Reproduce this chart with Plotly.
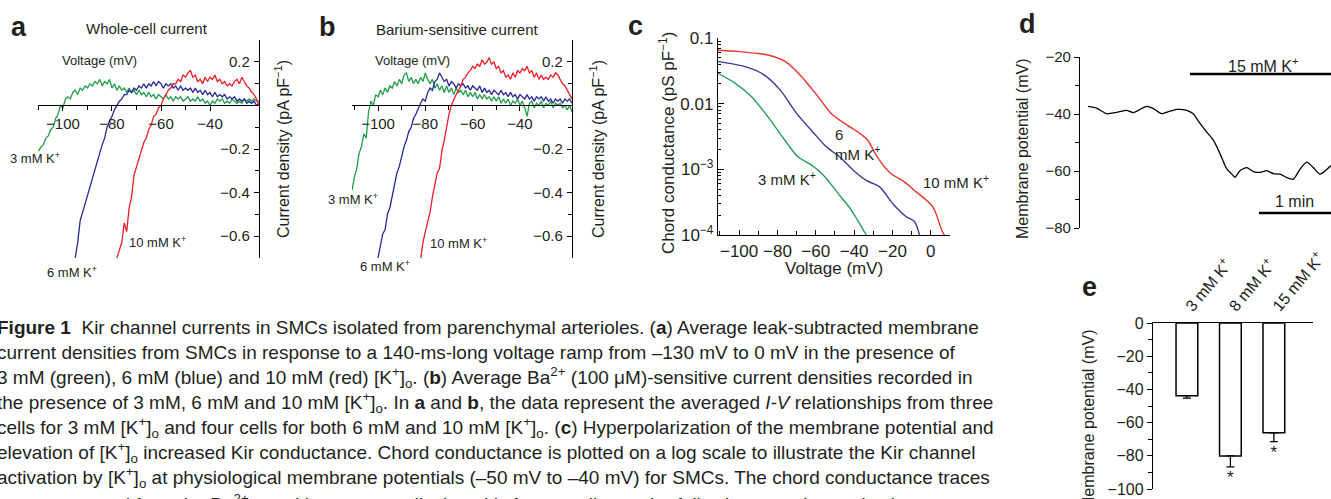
import plotly.graph_objects as go

W, H = 1331, 499


def px(x):
    return x / W


def py(y):
    return 1 - y / H


INK = '#231f20'
GREEN = '#1f9d4b'
BLUE = '#27279b'
RED = '#ee1d25'
FONT = 'Liberation Sans, Arial, sans-serif'

# ---- panel a: whole-cell current (pA/pF), 1 mV steps from the start voltage
a_green_v0 = -110
a_green = [-0.21, -0.19, -0.18, -0.15, -0.14, -0.11, -0.10, -0.06, -0.04, 0.0,
           -0.01, 0.03, 0.04, 0.03, 0.06, 0.07, 0.05, 0.08, 0.07, 0.09,
           0.08, 0.10, 0.09, 0.11, 0.10, 0.12, 0.09, 0.11, 0.10, 0.12,
           0.08, 0.10, 0.07, 0.09, 0.07, 0.08, 0.06, 0.08, 0.06, 0.07,
           0.05, 0.07, 0.05, 0.06, 0.04, 0.06, 0.04, 0.05, 0.03, 0.05,
           0.04, 0.03, 0.05, 0.03, 0.04, 0.02, 0.04, 0.03, 0.04, 0.02,
           0.03, 0.04, 0.02, 0.03, 0.02, 0.04, 0.02, 0.03, 0.01, 0.02,
           0.0, 0.02, 0.01, 0.03, 0.02, 0.03, 0.01, 0.02, 0.01, 0.03,
           0.02, 0.01, 0.02, 0.01, 0.03, 0.02, 0.03, 0.02, 0.03, 0.02, 0.02]
a_blue_v0 = -95
a_blue = [-0.70, -0.63, -0.53, -0.49, -0.45, -0.41, -0.38, -0.33, -0.30, -0.25,
          -0.21, -0.18, -0.15, -0.10, -0.07, -0.05, -0.02, 0.0, 0.02, 0.03,
          0.05, 0.05, 0.07, 0.06, 0.08, 0.07, 0.09, 0.08, 0.10, 0.08,
          0.10, 0.09, 0.11, 0.09, 0.11, 0.10, 0.08, 0.10, 0.09, 0.10,
          0.08, 0.09, 0.07, 0.09, 0.07, 0.08, 0.07, 0.08, 0.06, 0.08,
          0.06, 0.07, 0.05, 0.07, 0.05, 0.06, 0.04, 0.06, 0.04, 0.05,
          0.04, 0.05, 0.03, 0.04, 0.03, 0.04, 0.02, 0.03, 0.02, 0.03,
          0.01, 0.02, 0.01, 0.02, 0.0, 0.01]
a_red_v0 = -78
a_red = [-0.70, -0.66, -0.63, -0.54, -0.58, -0.47, -0.42, -0.32, -0.28, -0.24,
         -0.21, -0.17, -0.15, -0.11, -0.09, -0.05, -0.04, -0.01, 0.0, 0.03,
         0.05, 0.07, 0.08, 0.10, 0.10, 0.12, 0.11, 0.14, 0.13, 0.15,
         0.16, 0.13, 0.14, 0.11, 0.12, 0.10, 0.13, 0.11, 0.13, 0.12,
         0.14, 0.11, 0.12, 0.10, 0.11, 0.09, 0.10, 0.09, 0.11, 0.12,
         0.10, 0.13, 0.11, 0.09, 0.08, 0.06, 0.05, 0.03, 0.0]

# ---- panel b: barium-sensitive current (pA/pF)
b_green_v0 = -111
b_green = [-0.39, -0.33, -0.29, -0.22, -0.19, -0.13, -0.15, -0.03, 0.02, 0.0,
           0.05, 0.04, 0.07, 0.05, 0.08, 0.06, 0.09, 0.08, 0.11, 0.09,
           0.12, 0.10, 0.14, 0.15, 0.11, 0.13, 0.10, 0.12, 0.10, 0.13,
           0.11, 0.15, 0.12, 0.10, 0.12, 0.08, 0.10, 0.07, 0.09, 0.06,
           0.09, 0.06, 0.08, 0.05, 0.08, 0.06, 0.07, 0.05, 0.07, 0.04,
           0.06, 0.04, 0.06, 0.03, 0.05, 0.03, 0.05, 0.03, 0.04, 0.02,
           0.04, 0.02, 0.04, 0.01, 0.03, 0.01, 0.03, 0.0, 0.02, 0.01,
           0.03, 0.0, 0.02, -0.01, -0.05, 0.01, 0.02, -0.01, 0.01, 0.0,
           0.02, -0.01, 0.01, 0.0, 0.02, -0.01, 0.01, 0.0, 0.01, -0.01,
           0.0, -0.02, 0.0, -0.03]
b_blue_v0 = -100
b_blue = [-0.70, -0.64, -0.59, -0.57, -0.50, -0.47, -0.42, -0.37, -0.31, -0.28,
          -0.23, -0.19, -0.16, -0.12, -0.10, -0.06, -0.04, -0.01, 0.01, 0.03,
          0.02, 0.06, 0.08, 0.07, 0.11, 0.12, 0.15, 0.13, 0.11, 0.12,
          0.09, 0.11, 0.10, 0.08, 0.10, 0.09, 0.10, 0.08, 0.09, 0.07,
          0.09, 0.08, 0.07, 0.09, 0.06, 0.08, 0.06, 0.07, 0.05, 0.07,
          0.06, 0.05, 0.07, 0.05, 0.06, 0.04, 0.06, 0.04, 0.05, 0.03,
          0.05, 0.04, 0.03, 0.05, 0.03, 0.04, 0.02, 0.04, 0.03, 0.04,
          0.02, 0.04, 0.02, 0.03, 0.01, 0.03, 0.02, 0.03, 0.01, 0.03,
          0.02, 0.03, 0.01]
b_red_v0 = -82
b_red = [-0.71, -0.63, -0.58, -0.53, -0.49, -0.42, -0.36, -0.31, -0.29, -0.21,
         -0.16, -0.10, -0.04, 0.0, 0.03, 0.05, 0.07, 0.09, 0.12, 0.13,
         0.15, 0.16, 0.18, 0.17, 0.19, 0.18, 0.21, 0.19, 0.20, 0.22,
         0.19, 0.20, 0.17, 0.18, 0.15, 0.16, 0.13, 0.14, 0.12, 0.15,
         0.13, 0.16, 0.15, 0.17, 0.16, 0.18, 0.15, 0.16, 0.13, 0.15,
         0.12, 0.14, 0.12, 0.13, 0.12, 0.14, 0.13, 0.15, 0.14, 0.12,
         0.10, 0.09, 0.07, 0.05, 0.03]

# ---- panel c: chord conductance (pS/pF)
c_red_v = [-111, -100, -90, -85, -76, -67.5, -59, -52, -45, -38, -33, -28, -21, -14, -9, 1, 5.6, 7]
c_red_g = [0.065, 0.062, 0.058, 0.055, 0.044, 0.026, 0.013, 0.0071, 0.0050, 0.0037,
           0.0028, 0.00155, 0.00087, 0.00065, 0.00049, 0.00027, 0.00012, 0.0001]
c_blue_v = [-111, -96, -87, -78.6, -70, -61, -54.5, -47.6, -40.6, -33.7, -26.7, -19.8, -12.8, -8.5, -5.9]
c_blue_g = [0.044, 0.036, 0.0275, 0.0162, 0.0071, 0.00355, 0.0022, 0.00155, 0.00098,
            0.00068, 0.00054, 0.0003, 0.00019, 0.00016, 0.0001]
c_green_v = [-111, -102, -93.6, -84.9, -76.2, -69.3, -62.3, -55.4, -48.4, -41.5, -33.7]
c_green_g = [0.029, 0.0204, 0.0129, 0.0063, 0.0028, 0.00155, 0.00117, 0.00078, 0.00043, 0.00024, 0.0001]

# ---- panel d: membrane potential trace (time in s)
d_t = [0, 5.8, 12.4, 19.1, 25.8, 30.2, 39.1, 43.6, 49.1, 54.7, 59.1, 65.8, 70.2, 74.7,
       79.1, 83.6, 88, 92.4, 95.8, 98, 101.3, 105.8, 110.2, 114.7, 119.1, 123.6, 128,
       132.4, 136.9, 141.3, 145.8, 150.2, 154.7, 162]
d_vm = [-37.3, -37.9, -39.9, -39.4, -38.7, -39.5, -37.3, -38.1, -39.9, -39.0, -38.4,
        -38.7, -39.9, -43.3, -46.3, -49.2, -53.9, -59.2, -61.0, -62.2, -59.9, -58.8,
        -60.2, -60.5, -59.9, -60.9, -61.1, -62.3, -62.9, -59.4, -56.9, -58.8, -61.1, -58.1]
k15_on = 68        # s, start of 15 mM K+ application
k15_level = -26    # mV, where the bar is drawn
scale_start = 114  # s
scale_len = 60     # s (1 min)
scale_level = -74.7

# ---- panel e: resting membrane potential
e_cats = ['3 mM K<sup>+</sup>', '8 mM K<sup>+</sup>', '15 mM K<sup>+</sup>']
e_mean = [-43.8, -80.1, -66.1]
e_sem = [1.4, 6.6, 5.4]
e_sig = [False, True, True]

fig = go.Figure()


def volt(v0, ys):
    return [v0 + i for i in range(len(ys))]


for v0, ys, col in [(a_green_v0, a_green, GREEN), (a_blue_v0, a_blue, BLUE), (a_red_v0, a_red, RED)]:
    fig.add_trace(go.Scatter(x=volt(v0, ys), y=ys, mode='lines', line=dict(color=col, width=1.3),
                             xaxis='x', yaxis='y'))
for v0, ys, col in [(b_green_v0, b_green, GREEN), (b_blue_v0, b_blue, BLUE), (b_red_v0, b_red, RED)]:
    fig.add_trace(go.Scatter(x=volt(v0, ys), y=ys, mode='lines', line=dict(color=col, width=1.3),
                             xaxis='x2', yaxis='y2'))
for vs, gs, col in [(c_red_v, c_red_g, '#e8352e'), (c_blue_v, c_blue_g, '#3a3a9c'), (c_green_v, c_green_g, '#25a05a')]:
    fig.add_trace(go.Scatter(x=vs, y=gs, mode='lines', line=dict(color=col, width=1.4, shape='spline', smoothing=0.8),
                             xaxis='x3', yaxis='y3'))

fig.add_trace(go.Scatter(x=d_t, y=d_vm, mode='lines', line=dict(color='black', width=1.3, shape='spline', smoothing=0.6),
                         xaxis='x4', yaxis='y4'))
fig.add_trace(go.Scatter(x=[k15_on, k15_on + 200], y=[k15_level, k15_level], mode='lines',
                         line=dict(color='black', width=2.5), xaxis='x4', yaxis='y4'))
fig.add_trace(go.Scatter(x=[scale_start, scale_start + scale_len], y=[scale_level, scale_level], mode='lines',
                         line=dict(color='black', width=2.5), xaxis='x4', yaxis='y4'))

fig.add_trace(go.Bar(x=e_cats, y=e_mean, width=0.5, marker=dict(color='white', line=dict(color='black', width=1.5)),
                     error_y=dict(type='data', symmetric=False, array=[0, 0, 0], arrayminus=e_sem,
                                  color='black', thickness=1.3, width=4),
                     xaxis='x5', yaxis='y5'))
star_x = [c for c, s in zip(e_cats, e_sig) if s]
star_y = [m - e - 7 for m, e, s in zip(e_mean, e_sem, e_sig) if s]
fig.add_trace(go.Scatter(x=star_x, y=star_y, mode='text', text=['*'] * len(star_x),
                         textfont=dict(size=17, color=INK, family=FONT), cliponaxis=False,
                         xaxis='x5', yaxis='y5'))

tick_font = dict(size=15, color=INK, family=FONT)
ax_line = dict(showline=True, linecolor='black', linewidth=1.3, showgrid=False, zeroline=False,
               tickcolor='black', tickfont=tick_font, automargin=False)

iv_x = dict(ax_line, anchor='free', position=py(105), ticks='outside', ticklen=5,
            tickvals=[-100, -80, -60, -40], ticktext=['−100', '−80', '−60', '−40'],
            minor=dict(dtick=10, tick0=0, ticks='outside', ticklen=4, tickcolor='black'))
iv_y = dict(ax_line, side='right', ticks='inside', ticklen=5, ticklabelposition='inside',
            ticklabelstandoff=4,
            range=[-0.701, 0.301], domain=[py(258), py(40)],
            tickvals=[-0.6, -0.4, -0.2, 0.2], ticktext=['−0.6', '−0.4', '−0.2', '0.2'],
            minor=dict(dtick=0.1, tick0=0, ticks='inside', ticklen=4, tickcolor='black'))

minor_log = [m * 10 ** e for e in (-4, -3, -2) for m in range(2, 10)]

fig.update_layout(
    width=W, height=H, margin=dict(l=0, r=0, t=0, b=0, autoexpand=False),
    paper_bgcolor='white', plot_bgcolor='white', showlegend=False,
    font=dict(family=FONT, color=INK),
    xaxis=dict(iv_x, domain=[px(38), px(259)], range=[-110.2, -20]),
    yaxis=dict(iv_y, anchor='x'),
    xaxis2=dict(iv_x, domain=[px(352), px(572)], range=[-111, -18]),
    yaxis2=dict(iv_y, anchor='x2'),
    xaxis3=dict(ax_line, domain=[px(718), px(950)], range=[-111, 10], anchor='y3',
                ticks='inside', ticklen=5, tickvals=[-100, -80, -60, -40, -20, 0],
                ticktext=['−100', '−80', '−60', '−40', '−20', '0'], tickfont=dict(tick_font, size=17),
                minor=dict(dtick=10, tick0=0, ticks='inside', ticklen=4, tickcolor='black')),
    yaxis3=dict(ax_line, domain=[py(235), py(38)], type='log', range=[-4, -1], anchor='x3',
                ticks='inside', ticklen=6, tickvals=[1e-4, 1e-3, 1e-2, 1e-1],
                ticktext=['10<sup>−4</sup>', '10<sup>−3</sup>', '0.01', '0.1'], tickfont=dict(tick_font, size=17),
                minor=dict(tickvals=minor_log, ticks='inside', ticklen=3, tickcolor='black')),
    xaxis4=dict(domain=[px(1080), 1.0], range=[-5.3, 162], visible=False, anchor='y4', automargin=False),
    yaxis4=dict(ax_line, domain=[py(228), py(57)], range=[-80, -20], anchor='x4',
                ticks='outside', ticklen=5, tickvals=[-80, -60, -40, -20],
                ticktext=['−80', '−60', '−40', '−20'], tickfont=dict(tick_font, size=15),
                minor=dict(dtick=10, tick0=0, ticks='outside', ticklen=4, tickcolor='black')),
    xaxis5=dict(ax_line, domain=[px(1153), px(1313)], range=[-0.78, 2.9], anchor='y5', side='top',
                ticks='', tickangle=-50, tickfont=dict(tick_font, size=16)),
    yaxis5=dict(ax_line, domain=[py(489), py(323)], range=[-100, 0], anchor='x5',
                ticks='outside', ticklen=5, tickvals=[0, -20, -40, -60, -80, -100],
                ticktext=['0', '−20', '−40', '−60', '−80', '−100'], tickfont=dict(tick_font, size=16),
                minor=dict(dtick=10, tick0=0, ticks='outside', ticklen=4, tickcolor='black')),
)


def label(text, x, y, size=13, bold=False, angle=0, anchor='center'):
    if bold:
        text = '<b>' + text + '</b>'
    fig.add_annotation(text=text, x=px(x), y=py(y), xref='paper', yref='paper', showarrow=False,
                       xanchor=anchor, yanchor='middle', textangle=angle, align='left',
                       font=dict(size=size, color=INK, family=FONT))


K = 'K<sup>+</sup>'
# panel letters and titles
label('a', 19, 27, 27, bold=True)
label('b', 327, 27, 27, bold=True)
label('c', 635, 26, 27, bold=True)
label('d', 1027, 24, 27, bold=True)
label('e', 1089, 287, 27, bold=True)
label('Whole-cell current', 147, 29, 15)
label('Barium-sensitive current', 457, 30, 15)
label('Voltage (mV)', 100, 60, 13)
label('Voltage (mV)', 412, 60, 13)
label('Current density (pA pF<sup>−1</sup>)', 282, 149, 16, angle=-90)
label('Current density (pA pF<sup>−1</sup>)', 597, 149, 16, angle=-90)
label('3 mM ' + K, 35, 158)
label('6 mM ' + K, 72, 272)
label('10 mM ' + K, 157, 242)
label('3 mM ' + K, 353, 199)
label('6 mM ' + K, 385, 266)
label('10 mM ' + K, 458, 243)
# panel c
label('Chord conductance (pS pF<sup>−1</sup>)', 667, 143, 17, angle=-90)
label('Voltage (mV)', 834, 268, 17)
label('6<br>mM ' + K, 857, 145, 15)
label('3 mM ' + K, 787, 178, 15)
label('10 mM ' + K, 956, 182, 15)
# panel d / e
label('Membrane potential (mV)', 1022, 148, 16, angle=-90)
label('15 mM ' + K, 1263, 65, 16)
label('1 min', 1294, 202, 16)
label('Membrane potential (mV)', 1088, 420, 16, angle=-90)

caption = [
    '<b>Figure 1</b>  Kir channel currents in SMCs isolated from parenchymal arterioles. (<b>a</b>) Average leak-subtracted membrane',
    'current densities from SMCs in response to a 140-ms-long voltage ramp from –130 mV to 0 mV in the presence of',
    '3 mM (green), 6 mM (blue) and 10 mM (red) [K<sup>+</sup>]<sub>o</sub>. (<b>b</b>) Average Ba<sup>2+</sup> (100 μM)-sensitive current densities recorded in',
    'the presence of 3 mM, 6 mM and 10 mM [K<sup>+</sup>]<sub>o</sub>. In <b>a</b> and <b>b</b>, the data represent the averaged <i>I-V</i> relationships from three',
    'cells for 3 mM [K<sup>+</sup>]<sub>o</sub> and four cells for both 6 mM and 10 mM [K<sup>+</sup>]<sub>o</sub>. (<b>c</b>) Hyperpolarization of the membrane potential and',
    'elevation of [K<sup>+</sup>]<sub>o</sub> increased Kir conductance. Chord conductance is plotted on a log scale to illustrate the Kir channel',
    'activation by [K<sup>+</sup>]<sub>o</sub> at physiological membrane potentials (–50 mV to –40 mV) for SMCs. The chord conductance traces',
    'were generated from the Ba<sup>2+</sup>-sensitive currents displayed in <b>b</b>, according to the following equation and using',
]
for i, line in enumerate(caption):
    label(line, -5, 327.5 + 25.05 * i, 19, anchor='left')

# the page body has a default 8px margin; drop it so the figure fills the window exactly
fig.write_html('out.html', config={'displayModeBar': False},
               post_script="document.body.style.margin='0';")
